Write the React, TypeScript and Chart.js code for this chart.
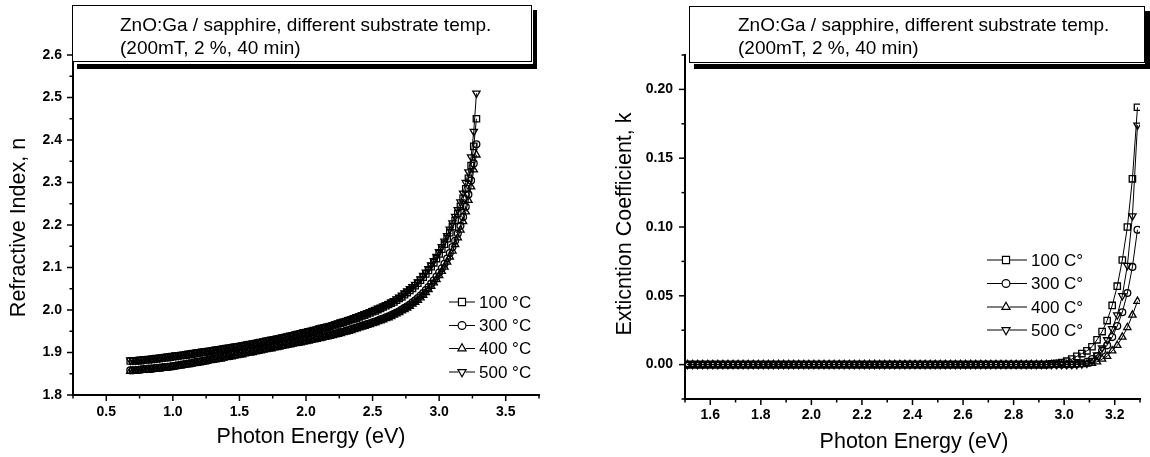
import React, { useEffect, useRef } from 'react';
import { Chart, registerables } from 'chart.js';

Chart.register(...registerables);

const FONT = '"Liberation Sans", Arial, Helvetica, sans-serif';

// ---------- Left panel: refractive index n vs photon energy ----------
const E_LEFT = [
  0.68, 0.70, 0.72, 0.74, 0.76, 0.78, 0.80, 0.82, 0.84, 0.86,
  0.88, 0.90, 0.92, 0.94, 0.96, 0.98, 1.00, 1.02, 1.04, 1.06,
  1.08, 1.10, 1.12, 1.14, 1.16, 1.18, 1.20, 1.22, 1.24, 1.26,
  1.28, 1.30, 1.32, 1.34, 1.36, 1.38, 1.40, 1.42, 1.44, 1.46,
  1.48, 1.50, 1.52, 1.54, 1.56, 1.58, 1.60, 1.62, 1.64, 1.66,
  1.68, 1.70, 1.72, 1.74, 1.76, 1.78, 1.80, 1.82, 1.84, 1.86,
  1.88, 1.90, 1.92, 1.94, 1.96, 1.98, 2.00, 2.02, 2.04, 2.06,
  2.08, 2.10, 2.12, 2.14, 2.16, 2.18, 2.20, 2.22, 2.24, 2.26,
  2.28, 2.30, 2.32, 2.34, 2.36, 2.38, 2.40, 2.42, 2.44, 2.46,
  2.48, 2.50, 2.52, 2.54, 2.56, 2.58, 2.60, 2.62, 2.64, 2.66,
  2.68, 2.70, 2.72, 2.74, 2.76, 2.78, 2.80, 2.82, 2.84, 2.86,
  2.88, 2.90, 2.92, 2.94, 2.96, 2.98, 3.00, 3.02, 3.04, 3.06,
  3.08, 3.10, 3.12, 3.14, 3.16, 3.18, 3.20, 3.22, 3.24, 3.26,
  3.28,
];

const N_100 = [
  1.880, 1.880, 1.880, 1.881, 1.881, 1.882, 1.883, 1.883, 1.884, 1.885,
  1.885, 1.886, 1.887, 1.888, 1.888, 1.889, 1.890, 1.891, 1.892, 1.893,
  1.893, 1.894, 1.895, 1.896, 1.897, 1.898, 1.899, 1.900, 1.901, 1.902,
  1.903, 1.904, 1.905, 1.906, 1.907, 1.908, 1.909, 1.910, 1.911, 1.912,
  1.913, 1.914, 1.915, 1.916, 1.917, 1.918, 1.920, 1.921, 1.922, 1.923,
  1.924, 1.926, 1.927, 1.928, 1.930, 1.931, 1.932, 1.934, 1.935, 1.936,
  1.938, 1.939, 1.941, 1.942, 1.944, 1.945, 1.947, 1.948, 1.950, 1.951,
  1.953, 1.955, 1.956, 1.958, 1.959, 1.961, 1.963, 1.965, 1.967, 1.969,
  1.971, 1.973, 1.975, 1.977, 1.979, 1.981, 1.984, 1.986, 1.988, 1.991,
  1.993, 1.996, 1.998, 2.001, 2.004, 2.007, 2.010, 2.013, 2.016, 2.019,
  2.023, 2.027, 2.031, 2.036, 2.041, 2.046, 2.051, 2.057, 2.063, 2.070,
  2.077, 2.085, 2.093, 2.102, 2.111, 2.121, 2.132, 2.143, 2.155, 2.168,
  2.182, 2.196, 2.211, 2.227, 2.244, 2.263, 2.285, 2.310, 2.340, 2.385,
  2.450,
];

const N_300 = [
  1.858, 1.858, 1.859, 1.859, 1.860, 1.861, 1.861, 1.862, 1.862, 1.863,
  1.864, 1.864, 1.865, 1.866, 1.866, 1.867, 1.868, 1.869, 1.870, 1.871,
  1.872, 1.873, 1.874, 1.875, 1.877, 1.878, 1.879, 1.880, 1.881, 1.882,
  1.884, 1.885, 1.886, 1.887, 1.888, 1.890, 1.891, 1.892, 1.894, 1.895,
  1.896, 1.897, 1.899, 1.900, 1.901, 1.903, 1.904, 1.905, 1.906, 1.908,
  1.909, 1.910, 1.911, 1.913, 1.914, 1.915, 1.917, 1.918, 1.919, 1.920,
  1.922, 1.923, 1.924, 1.925, 1.927, 1.928, 1.929, 1.930, 1.932, 1.933,
  1.934, 1.936, 1.937, 1.938, 1.940, 1.941, 1.943, 1.944, 1.946, 1.948,
  1.949, 1.951, 1.953, 1.955, 1.957, 1.959, 1.961, 1.963, 1.965, 1.967,
  1.969, 1.971, 1.973, 1.975, 1.978, 1.980, 1.983, 1.985, 1.988, 1.991,
  1.994, 1.997, 2.001, 2.005, 2.009, 2.013, 2.018, 2.023, 2.028, 2.034,
  2.040, 2.047, 2.054, 2.062, 2.070, 2.079, 2.088, 2.098, 2.109, 2.121,
  2.134, 2.148, 2.163, 2.180, 2.198, 2.219, 2.243, 2.272, 2.305, 2.345,
  2.390,
];

const N_400 = [
  1.856, 1.856, 1.857, 1.857, 1.858, 1.858, 1.859, 1.859, 1.860, 1.861,
  1.861, 1.862, 1.863, 1.863, 1.864, 1.865, 1.866, 1.867, 1.868, 1.869,
  1.870, 1.871, 1.872, 1.873, 1.874, 1.875, 1.876, 1.877, 1.878, 1.880,
  1.881, 1.882, 1.883, 1.884, 1.885, 1.887, 1.888, 1.889, 1.890, 1.892,
  1.893, 1.894, 1.895, 1.897, 1.898, 1.899, 1.900, 1.902, 1.903, 1.904,
  1.906, 1.907, 1.908, 1.909, 1.911, 1.912, 1.913, 1.915, 1.916, 1.917,
  1.918, 1.920, 1.921, 1.922, 1.923, 1.925, 1.926, 1.927, 1.929, 1.930,
  1.931, 1.933, 1.934, 1.936, 1.937, 1.938, 1.940, 1.942, 1.943, 1.945,
  1.947, 1.948, 1.950, 1.952, 1.954, 1.956, 1.958, 1.960, 1.962, 1.964,
  1.966, 1.968, 1.970, 1.973, 1.975, 1.977, 1.980, 1.982, 1.985, 1.988,
  1.991, 1.994, 1.998, 2.001, 2.005, 2.009, 2.014, 2.018, 2.023, 2.029,
  2.035, 2.041, 2.048, 2.056, 2.064, 2.072, 2.081, 2.091, 2.101, 2.113,
  2.125, 2.139, 2.154, 2.170, 2.188, 2.208, 2.231, 2.258, 2.290, 2.330,
  2.365,
];

const N_500 = [
  1.882, 1.882, 1.883, 1.883, 1.884, 1.884, 1.885, 1.886, 1.886, 1.887,
  1.888, 1.888, 1.889, 1.890, 1.891, 1.892, 1.893, 1.894, 1.894, 1.895,
  1.896, 1.897, 1.898, 1.899, 1.900, 1.901, 1.902, 1.903, 1.904, 1.904,
  1.905, 1.906, 1.907, 1.908, 1.909, 1.910, 1.911, 1.912, 1.913, 1.914,
  1.915, 1.916, 1.917, 1.918, 1.920, 1.921, 1.922, 1.923, 1.924, 1.926,
  1.927, 1.928, 1.929, 1.931, 1.932, 1.933, 1.935, 1.936, 1.937, 1.939,
  1.940, 1.942, 1.943, 1.945, 1.946, 1.948, 1.949, 1.951, 1.952, 1.954,
  1.955, 1.957, 1.959, 1.960, 1.962, 1.963, 1.965, 1.967, 1.969, 1.971,
  1.973, 1.975, 1.977, 1.979, 1.982, 1.984, 1.986, 1.988, 1.991, 1.993,
  1.996, 1.998, 2.001, 2.004, 2.006, 2.009, 2.012, 2.015, 2.018, 2.022,
  2.026, 2.030, 2.035, 2.040, 2.045, 2.050, 2.055, 2.060, 2.066, 2.073,
  2.081, 2.089, 2.097, 2.106, 2.116, 2.126, 2.137, 2.149, 2.162, 2.175,
  2.190, 2.205, 2.220, 2.236, 2.254, 2.275, 2.300, 2.325, 2.360, 2.420,
  2.510,
];

// ---------- Right panel: extinction coefficient k vs photon energy ----------
const E_RIGHT = [
  1.51, 1.53, 1.55, 1.57, 1.59, 1.61, 1.63, 1.65, 1.67, 1.69,
  1.71, 1.73, 1.75, 1.77, 1.79, 1.81, 1.83, 1.85, 1.87, 1.89,
  1.91, 1.93, 1.95, 1.97, 1.99, 2.01, 2.03, 2.05, 2.07, 2.09,
  2.11, 2.13, 2.15, 2.17, 2.19, 2.21, 2.23, 2.25, 2.27, 2.29,
  2.31, 2.33, 2.35, 2.37, 2.39, 2.41, 2.43, 2.45, 2.47, 2.49,
  2.51, 2.53, 2.55, 2.57, 2.59, 2.61, 2.63, 2.65, 2.67, 2.69,
  2.71, 2.73, 2.75, 2.77, 2.79, 2.81, 2.83, 2.85, 2.87, 2.89,
  2.91, 2.93, 2.95, 2.97, 2.99, 3.01, 3.03, 3.05, 3.07, 3.09,
  3.11, 3.13, 3.15, 3.17, 3.19, 3.21, 3.23, 3.25, 3.27, 3.29,
];

// k is flat at zero from 1.51 to 2.93 eV (72 points) for every sample
const K_FLAT = [
  0, 0, 0, 0, 0, 0, 0, 0, 0, 0,
  0, 0, 0, 0, 0, 0, 0, 0, 0, 0,
  0, 0, 0, 0, 0, 0, 0, 0, 0, 0,
  0, 0, 0, 0, 0, 0, 0, 0, 0, 0,
  0, 0, 0, 0, 0, 0, 0, 0, 0, 0,
  0, 0, 0, 0, 0, 0, 0, 0, 0, 0,
  0, 0, 0, 0, 0, 0, 0, 0, 0, 0,
  0, 0,
];

// rising edge, 2.95 .. 3.29 eV (18 points)
const K_100_EDGE = [0.0005, 0.001, 0.0015, 0.0025, 0.004, 0.006, 0.008, 0.010, 0.013, 0.018, 0.024, 0.032, 0.043, 0.057, 0.076, 0.100, 0.135, 0.187];
const K_300_EDGE = [0, 0, 0, 0, 0, 0.0005, 0.001, 0.002, 0.004, 0.006, 0.010, 0.014, 0.020, 0.028, 0.038, 0.052, 0.071, 0.098];
const K_400_EDGE = [0, 0, 0, 0, 0, 0, 0, 0.0005, 0.001, 0.002, 0.004, 0.006, 0.010, 0.014, 0.020, 0.027, 0.036, 0.046];
const K_500_EDGE = [0, 0, 0, 0, 0, 0, 0.0005, 0.001, 0.003, 0.007, 0.012, 0.018, 0.026, 0.036, 0.050, 0.072, 0.108, 0.174];

const K_100 = [...K_FLAT, ...K_100_EDGE];
const K_300 = [...K_FLAT, ...K_300_EDGE];
const K_400 = [...K_FLAT, ...K_400_EDGE];
const K_500 = [...K_FLAT, ...K_500_EDGE];

const TEMPS = ['100', '300', '400', '500'];
const LEFT_LABELS = ['100 °C', '300 °C', '400 °C', '500 °C'];
const RIGHT_LABELS = ['100 C°', '300 C°', '400 C°', '500 C°'];
const TITLE_LINES = ['ZnO:Ga / sapphire, different substrate temp.', '(200mT, 2 %, 40 min)'];

// marker styles per series (□ ○ △ ▽)
const MARKERS = [
  { style: 'rect', rot: 0, r: 4.5 },
  { style: 'circle', rot: 0, r: 3.4 },
  { style: 'triangle', rot: 0, r: 4.2 },
  { style: 'triangle', rot: 180, r: 4.2 },
];

function markerPath(ctx: CanvasRenderingContext2D, style: string, rot: number, x: number, y: number, r: number) {
  ctx.beginPath();
  if (style === 'circle') {
    ctx.arc(x, y, r, 0, Math.PI * 2);
  } else if (style === 'rect') {
    const s = Math.SQRT1_2 * r;
    ctx.rect(x - s, y - s, 2 * s, 2 * s);
  } else {
    let a = (rot * Math.PI) / 180;
    ctx.moveTo(x + Math.sin(a) * r, y - Math.cos(a) * r);
    a += (2 * Math.PI) / 3;
    ctx.lineTo(x + Math.sin(a) * r, y - Math.cos(a) * r);
    a += (2 * Math.PI) / 3;
    ctx.lineTo(x + Math.sin(a) * r, y - Math.cos(a) * r);
    ctx.closePath();
  }
  ctx.stroke();
}

type Decor = {
  box: { x: number; y: number; w: number; h: number };
  bars: { x: number; y: number; w: number; h: number }[];
  textX: number;
  textY: number[];
  legend: { rows: number[]; x0: number; x1: number; mx: number; tx: number; labels: string[] };
  xTitle: { text: string; x: number; y: number };
  yTitle: { text: string; x: number; y: number };
};

function decorPlugin(d: Decor) {
  return {
    id: 'decor',
    afterDraw(chart: any) {
      const ctx: CanvasRenderingContext2D = chart.ctx;
      ctx.save();
      // tick marks (outward, major longer than minor)
      ctx.strokeStyle = '#000';
      ctx.lineWidth = 1.5;
      (['x', 'y'] as const).forEach((id) => {
        const s = chart.scales[id];
        s.ticks.forEach((t: any) => {
          const major = t.label !== '' && t.label !== undefined;
          const len = major ? 6 : 3.5;
          const p = s.getPixelForValue(t.value);
          ctx.beginPath();
          if (id === 'x') {
            ctx.moveTo(p, s.top);
            ctx.lineTo(p, s.top + len);
          } else {
            ctx.moveTo(s.right, p);
            ctx.lineTo(s.right - len, p);
          }
          ctx.stroke();
        });
      });

      // title box with shadow
      ctx.fillStyle = '#000';
      d.bars.forEach((b) => ctx.fillRect(b.x, b.y, b.w, b.h));
      ctx.fillStyle = '#fff';
      ctx.fillRect(d.box.x, d.box.y, d.box.w, d.box.h);
      ctx.lineWidth = 1;
      ctx.strokeStyle = '#000';
      ctx.strokeRect(d.box.x + 0.5, d.box.y + 0.5, d.box.w, d.box.h);
      ctx.fillStyle = '#000';
      ctx.font = `19px ${FONT}`;
      ctx.textAlign = 'left';
      ctx.textBaseline = 'alphabetic';
      TITLE_LINES.forEach((line, i) => ctx.fillText(line, d.textX, d.textY[i]));

      // legend: dash, open symbol, dash, label
      const L = d.legend;
      ctx.font = `17px ${FONT}`;
      ctx.textBaseline = 'middle';
      L.rows.forEach((y, i) => {
        const m = MARKERS[i];
        const rr = m.r + 0.5;
        const gap = m.style === 'circle' ? rr : rr * 0.75;
        ctx.strokeStyle = '#000';
        ctx.lineWidth = 1.2;
        ctx.beginPath();
        ctx.moveTo(L.x0, y);
        ctx.lineTo(L.mx - gap, y);
        ctx.moveTo(L.mx + gap, y);
        ctx.lineTo(L.x1, y);
        ctx.stroke();
        ctx.lineWidth = 1.2;
        markerPath(ctx, m.style, m.rot, L.mx, y, rr);
        ctx.fillStyle = '#000';
        ctx.fillText(L.labels[i], L.tx, y + 1);
      });

      // axis titles
      ctx.font = `21.5px ${FONT}`;
      ctx.textAlign = 'center';
      ctx.textBaseline = 'middle';
      ctx.fillStyle = '#000';
      ctx.fillText(d.xTitle.text, d.xTitle.x, d.xTitle.y);
      ctx.save();
      ctx.translate(d.yTitle.x, d.yTitle.y);
      ctx.rotate(-Math.PI / 2);
      ctx.fillText(d.yTitle.text, 0, 0);
      ctx.restore();
      ctx.restore();
    },
  };
}

function makeDatasets(xs: number[], series: number[][]) {
  return series.map((vals, i) => ({
    label: TEMPS[i],
    data: xs.map((x, j) => ({ x, y: vals[j] })),
    showLine: true,
    borderColor: '#000',
    borderWidth: 1,
    pointStyle: MARKERS[i].style,
    pointRotation: MARKERS[i].rot,
    pointRadius: MARKERS[i].r,
    pointBackgroundColor: 'rgba(0,0,0,0)',
    pointBorderColor: '#000',
    pointBorderWidth: 1.3,
    fill: false,
    tension: 0,
  }));
}

function axisCommon() {
  return {
    type: 'linear',
    grid: { display: false, drawTicks: false, tickLength: 0 },
    border: { display: true, color: '#000', width: 2 },
  };
}

function tickFont() {
  return { family: FONT, size: 14, weight: 'bold' };
}

function leftConfig(): any {
  return {
    type: 'scatter',
    data: { datasets: makeDatasets(E_LEFT, [N_100, N_300, N_400, N_500]) },
    options: {
      animation: false,
      responsive: false,
      devicePixelRatio: 1,
      events: [],
      layout: { padding: { left: 0, top: 38, right: 36, bottom: 0 } },
      plugins: { legend: { display: false }, tooltip: { enabled: false } },
      scales: {
        x: {
          ...axisCommon(),
          min: 0.25,
          max: 3.75,
          afterFit: (s: any) => { s.height = 62; },
          ticks: {
            stepSize: 0.25, autoSkip: false, maxRotation: 0, padding: 9, color: '#000', font: tickFont(),
            callback: (v: number) => (Math.round(v * 4) % 2 === 0 ? v.toFixed(1) : ''),
          },
        },
        y: {
          ...axisCommon(),
          min: 1.8,
          max: 2.64,
          afterFit: (s: any) => { s.width = 73; },
          ticks: {
            stepSize: 0.05, includeBounds: false, autoSkip: false, padding: 11, color: '#000', font: tickFont(),
            callback: (v: number) => (Math.round(v * 20) % 2 === 0 ? v.toFixed(1) : ''),
          },
        },
      },
    },
    plugins: [decorPlugin({
      box: { x: 72, y: 5, w: 459, h: 56 },
      bars: [{ x: 77, y: 64, w: 460, h: 5 }, { x: 533, y: 10, w: 4, h: 59 }],
      textX: 120,
      textY: [30.5, 53.5],
      legend: { rows: [302, 325.5, 348.5, 372], x0: 449, x1: 475, mx: 462, tx: 479, labels: LEFT_LABELS },
      xTitle: { text: 'Photon Energy (eV)', x: 311, y: 437.5 },
      yTitle: { text: 'Refractive Index, n', x: 19.5, y: 227.5 },
    })],
  };
}

function rightConfig(): any {
  return {
    type: 'scatter',
    data: { datasets: makeDatasets(E_RIGHT, [K_100, K_300, K_400, K_500]) },
    options: {
      animation: false,
      responsive: false,
      devicePixelRatio: 1,
      events: [],
      layout: { padding: { left: 0, top: 55, right: 10, bottom: 0 } },
      plugins: { legend: { display: false }, tooltip: { enabled: false } },
      scales: {
        x: {
          ...axisCommon(),
          min: 1.5,
          max: 3.3,
          afterFit: (s: any) => { s.height = 58; },
          ticks: {
            stepSize: 0.1, autoSkip: false, maxRotation: 0, padding: 8, color: '#000', font: tickFont(),
            callback: (v: number) => (Math.round(v * 10) % 2 === 0 ? v.toFixed(1) : ''),
          },
        },
        y: {
          ...axisCommon(),
          min: -0.025,
          max: 0.225,
          afterFit: (s: any) => { s.width = 110; },
          ticks: {
            stepSize: 0.025, autoSkip: false, padding: 12, color: '#000', font: tickFont(),
            callback: (v: number) => (Math.round(v * 40) % 2 === 0 ? v.toFixed(2) : ''),
          },
        },
      },
    },
    plugins: [decorPlugin({
      box: { x: 114, y: 6, w: 455, h: 56 },
      bars: [{ x: 119, y: 64, w: 455, h: 5 }, { x: 570, y: 11, w: 5, h: 58 }],
      textX: 163,
      textY: [30.5, 53.5],
      legend: { rows: [260, 283.5, 307, 330], x0: 412, x1: 452, mx: 431, tx: 456, labels: RIGHT_LABELS },
      xTitle: { text: 'Photon Energy (eV)', x: 339, y: 442 },
      yTitle: { text: 'Exticntion Coefficient, k', x: 49.7, y: 224 },
    })],
  };
}

function Panel({ make, left }: { make: () => any; left: number }) {
  const ref = useRef<HTMLCanvasElement>(null);
  useEffect(() => {
    if (!ref.current) return;
    const chart = new Chart(ref.current, make());
    return () => chart.destroy();
  }, [make]);
  return (
    <canvas
      ref={ref}
      width={575}
      height={457}
      style={{ position: 'absolute', left, top: 0, width: 575, height: 457 }}
    />
  );
}

export default function App() {
  return (
    <div style={{ position: 'absolute', left: 0, top: 0, width: 1150, height: 457, background: '#fff', overflow: 'hidden' }}>
      <Panel make={leftConfig} left={0} />
      <Panel make={rightConfig} left={575} />
    </div>
  );
}
